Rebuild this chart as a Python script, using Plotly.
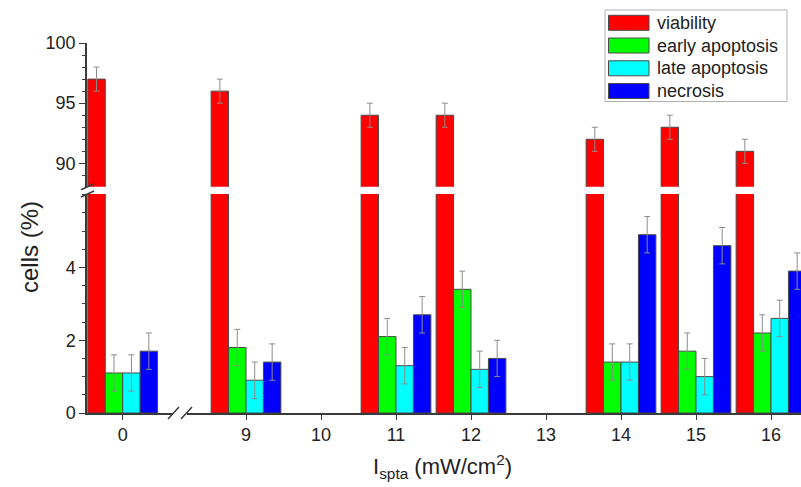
import plotly.graph_objects as go

# ---------------- data ----------------
intensity_labels = ["0", "9", "11", "12", "14", "15", "16"]
intensity_values = [0, 9, 11, 12, 14, 15, 16]
axis_tick_labels = ["0", "9", "10", "11", "12", "13", "14", "15", "16"]
axis_tick_values = [0, 9, 10, 11, 12, 13, 14, 15, 16]

series_names = ["viability", "early apoptosis", "late apoptosis", "necrosis"]
viability = [97, 96, 94, 94, 92, 93, 91]
viability_err = [1, 1, 1, 1, 1, 1, 1]
early_apoptosis = [1.1, 1.8, 2.1, 3.4, 1.4, 1.7, 2.2]
early_apoptosis_err = [0.5, 0.5, 0.5, 0.5, 0.5, 0.5, 0.5]
late_apoptosis = [1.1, 0.9, 1.3, 1.2, 1.4, 1.0, 2.6]
late_apoptosis_err = [0.5, 0.5, 0.5, 0.5, 0.5, 0.5, 0.5]
necrosis = [1.7, 1.4, 2.7, 1.5, 4.9, 4.6, 3.9]
necrosis_err = [0.5, 0.5, 0.5, 0.5, 0.5, 0.5, 0.5]

# ---------------- styling / layout ----------------
W, H = 801, 487
ML, MR, MT, MB = 87, 0, 43, 74
PW, PH = W - ML - MR, H - MT - MB
colors = ["#ff0000", "#00ff00", "#00ffff", "#0000ff"]
FONT = "Liberation Sans, Arial, sans-serif"
AXC = "#3a3a3a"
ZERO_POS = 7.356          # axis position where x = 0 is drawn (broken axis)
X_RANGE = [6.88, 16.4]
GROUP_W = 0.93
BAR_W = GROUP_W / 4


def xpos(v):
    return ZERO_POS if v == 0 else v


def px_x(p):
    return (p - ML) / PW


def px_y(p):
    return (H - MB - p) / PH


xs = [xpos(v) for v in intensity_values]
lower_top_px, upper_bot_px = 194, 186.7
lower_dom = [0, px_y(lower_top_px)]
upper_dom = [px_y(upper_bot_px), 1]

values = [viability, early_apoptosis, late_apoptosis, necrosis]
errors = [viability_err, early_apoptosis_err, late_apoptosis_err, necrosis_err]

fig = go.Figure()
for i, (name, vals, errs) in enumerate(zip(series_names, values, errors)):
    off = -GROUP_W / 2 + i * BAR_W
    common = dict(
        x=xs, width=[BAR_W] * len(xs), offset=[off] * len(xs),
        marker=dict(color=colors[i], line=dict(color="#4a4a4a", width=1)),
        name=name, showlegend=False, hoverinfo="x+y+name",
    )
    eb = dict(type="data", array=errs, color="#8c8c8c", thickness=1, width=3)
    if i == 0:
        # lower panel (clipped) and upper panel
        fig.add_trace(go.Bar(y=vals, xaxis="x", yaxis="y", **common))
        fig.add_trace(go.Bar(y=vals, xaxis="x", yaxis="y2", error_y=eb, **common))
    else:
        fig.add_trace(go.Bar(y=vals, xaxis="x", yaxis="y", error_y=eb, **common))

tickfont = dict(family=FONT, size=18, color="#222")
yaxis_common = dict(
    showline=True, linecolor=AXC, linewidth=1.5, ticks="outside", ticklen=6,
    tickwidth=1.2, tickcolor=AXC, showgrid=False, zeroline=False,
    tickfont=tickfont, anchor="x", fixedrange=True,
)

fig.update_layout(
    width=W, height=H,
    margin=dict(l=ML, r=MR, t=MT, b=MB),
    plot_bgcolor="white", paper_bgcolor="white",
    barmode="overlay",
    showlegend=False,
    xaxis=dict(
        domain=[0, 1], range=X_RANGE, anchor="y",
        showline=True, linecolor=AXC, linewidth=1.5,
        ticks="outside", ticklen=5, tickwidth=1.2, tickcolor=AXC,
        tickmode="array", tickvals=[xpos(v) for v in axis_tick_values],
        ticktext=axis_tick_labels, tickfont=tickfont,
        showgrid=False, zeroline=False,
    ),
    yaxis=dict(
        domain=lower_dom, range=[0, 6.02],
        tickmode="array", tickvals=[0, 2, 4],
        minor=dict(tickmode="linear", tick0=0, dtick=0.5, ticks="outside",
                   ticklen=3, tickcolor=AXC, showgrid=False),
        **yaxis_common,
    ),
    yaxis2=dict(
        domain=upper_dom, range=[88.06, 100],
        tickmode="array", tickvals=[90, 95, 100],
        minor=dict(tickmode="linear", tick0=0, dtick=1, ticks="outside",
                   ticklen=3, tickcolor=AXC, showgrid=False),
        **yaxis_common,
    ),
)

shapes = []
# x-axis break (white gap + two slashes)
axis_y = 413
shapes.append(dict(type="rect", xref="paper", yref="paper",
                   x0=px_x(172), x1=px_x(187), y0=px_y(axis_y + 2), y1=px_y(axis_y - 2),
                   fillcolor="white", line=dict(width=0), layer="above"))
for a in (168, 181):
    shapes.append(dict(type="line", xref="paper", yref="paper",
                       x0=px_x(a), y0=px_y(axis_y + 6), x1=px_x(a + 11), y1=px_y(axis_y - 6),
                       line=dict(color=AXC, width=1.5), layer="above"))
# y-axis break slashes
for b in (upper_bot_px, lower_top_px):
    shapes.append(dict(type="line", xref="paper", yref="paper",
                       x0=px_x(81), y0=px_y(b + 3), x1=px_x(94), y1=px_y(b - 3),
                       line=dict(color=AXC, width=1.5), layer="above"))

# custom legend (wide swatches)
shapes.append(dict(type="rect", xref="paper", yref="paper",
                   x0=px_x(605), x1=px_x(787), y0=px_y(101.5), y1=px_y(10),
                   fillcolor="white", line=dict(color="#b0b0b0", width=1), layer="above"))
annotations = []
row_centers = [22.8, 45.5, 68.3, 91.0]
for name, col, cy in zip(series_names, colors, row_centers):
    shapes.append(dict(type="rect", xref="paper", yref="paper",
                       x0=px_x(608.5), x1=px_x(649), y0=px_y(cy + 7.5), y1=px_y(cy - 7.5),
                       fillcolor=col, line=dict(color="#4a4a4a", width=1), layer="above"))
    annotations.append(dict(text=name, xref="paper", yref="paper", x=px_x(655), y=px_y(cy),
                            xanchor="left", yanchor="middle", showarrow=False,
                            font=dict(family=FONT, size=18, color="#222")))

# axis titles
annotations.append(dict(text="cells (%)", xref="paper", yref="paper",
                        x=px_x(30), y=px_y(247), textangle=-90,
                        xanchor="center", yanchor="middle", showarrow=False,
                        font=dict(family=FONT, size=24, color="#222")))
annotations.append(dict(text="I<sub>spta</sub> (mW/cm<sup>2</sup>)", xref="paper", yref="paper",
                        x=px_x(442), y=px_y(466),
                        xanchor="center", yanchor="middle", showarrow=False,
                        font=dict(family=FONT, size=22, color="#222")))

fig.update_layout(shapes=shapes, annotations=annotations)
fig.write_html(
    "out.html",
    config={"displayModeBar": False},
    post_script="document.body.style.margin='0';document.body.style.overflow='hidden';",
)
